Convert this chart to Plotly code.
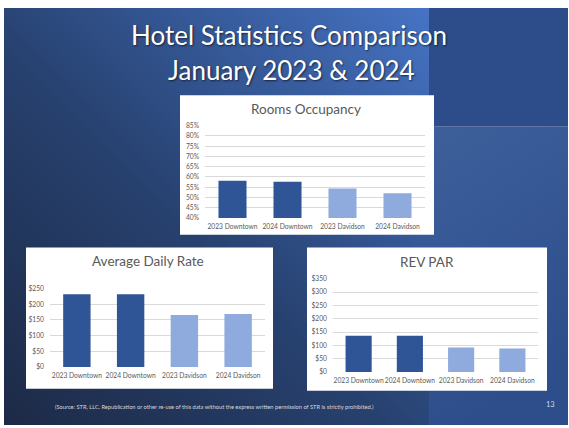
import plotly.graph_objects as go
from urllib.parse import quote

W, H = 569, 428

categories = ["2023 Downtown", "2024 Downtown", "2023 Davidson", "2024 Davidson"]
occupancy = [0.582, 0.577, 0.544, 0.520]
adr = [232, 232, 166, 169]
revpar = [136, 136, 92, 88]
bar_colors = ["#2f5597", "#2f5597", "#8faadc", "#8faadc"]

occ_ticks = [0.40, 0.45, 0.50, 0.55, 0.60, 0.65, 0.70, 0.75, 0.80, 0.85]
adr_ticks = [0, 50, 100, 150, 200, 250]
rev_ticks = [0, 50, 100, 150, 200, 250, 300, 350]

title_lines = ["Hotel Statistics Comparison", "January 2023 & 2024"]
chart_titles = ["Rooms Occupancy", "Average Daily Rate", "REV PAR"]
footer = ("(Source: STR, LLC. Republication or other re-use of this data without the "
          "express written permission of STR is strictly prohibited.)")
page_no = "13"


def px(x):
    return x / W


def py(y):
    return 1 - y / H


def svg_uri(svg):
    return "data:image/svg+xml;charset=utf-8," + quote(svg)


left_svg = (
    '<svg xmlns="http://www.w3.org/2000/svg" width="425" height="425" preserveAspectRatio="none" viewBox="0 0 425 425">'
    '<defs><linearGradient id="g" x1="0" y1="1" x2="1" y2="0">'
    '<stop offset="0" stop-color="#1d2a46"/>'
    '<stop offset="0.45" stop-color="#27416f"/>'
    '<stop offset="1" stop-color="#4673c4"/>'
    '</linearGradient></defs>'
    '<rect width="425" height="425" fill="url(#g)"/></svg>'
)
right_svg = (
    '<svg xmlns="http://www.w3.org/2000/svg" width="139" height="304" preserveAspectRatio="none" viewBox="0 0 139 304">'
    '<defs><linearGradient id="h" x1="0" y1="0" x2="0.3" y2="1">'
    '<stop offset="0" stop-color="#3d609b"/>'
    '<stop offset="1" stop-color="#2d4d8b"/>'
    '</linearGradient></defs>'
    '<rect width="139" height="304" fill="url(#h)"/></svg>'
)

images = [
    dict(source=svg_uri(left_svg), xref="paper", yref="paper", x=px(4), y=py(3),
         sizex=px(429) - px(4), sizey=py(3) - py(428), sizing="stretch",
         xanchor="left", yanchor="top", layer="below"),
    dict(source=svg_uri(right_svg), xref="paper", yref="paper", x=px(429), y=py(124),
         sizex=px(568) - px(429), sizey=py(124) - py(428), sizing="stretch",
         xanchor="left", yanchor="top", layer="below"),
]

shapes = [
    dict(type="rect", xref="paper", yref="paper", x0=px(429), x1=px(568), y0=py(124), y1=py(3),
         fillcolor="#2c4d89", line=dict(width=0), layer="below"),
    dict(type="rect", xref="paper", yref="paper", x0=px(180), x1=px(434), y0=py(234), y1=py(92),
         fillcolor="white", line=dict(width=0), layer="below"),
    dict(type="rect", xref="paper", yref="paper", x0=px(26), x1=px(273), y0=py(391), y1=py(247),
         fillcolor="white", line=dict(width=0), layer="below"),
    dict(type="rect", xref="paper", yref="paper", x0=px(307), x1=px(547), y0=py(393), y1=py(247),
         fillcolor="white", line=dict(width=0), layer="below"),
]

fig = go.Figure()

fig.add_trace(go.Bar(x=categories, y=occupancy, marker=dict(color=bar_colors, line=dict(width=0)),
                     xaxis="x", yaxis="y", showlegend=False, hoverinfo="skip"))
fig.add_trace(go.Bar(x=categories, y=adr, marker=dict(color=bar_colors, line=dict(width=0)),
                     xaxis="x2", yaxis="y2", showlegend=False, hoverinfo="skip"))
fig.add_trace(go.Bar(x=categories, y=revpar, marker=dict(color=bar_colors, line=dict(width=0)),
                     xaxis="x3", yaxis="y3", showlegend=False, hoverinfo="skip"))

tickfont = dict(family="Lato, Liberation Sans, sans-serif", size=6.7, color="#595959")
grid = "#d9d9d9"


def xax(domain, anchor):
    return dict(domain=domain, anchor=anchor, showgrid=False, zeroline=False, showline=False,
                ticks="", tickfont=tickfont, tickangle=0, ticklabelstandoff=3, fixedrange=True)


def yax(domain, anchor, rng, vals, texts):
    return dict(domain=domain, anchor=anchor, range=rng, tickvals=vals, ticktext=texts,
                showgrid=True, gridcolor=grid, gridwidth=1, zeroline=False, showline=False,
                ticks="", tickfont=tickfont, ticklabelstandoff=5, fixedrange=True)


fig.update_layout(
    width=W, height=H,
    margin=dict(l=0, r=0, t=0, b=0),
    paper_bgcolor="white",
    plot_bgcolor="rgba(0,0,0,0)",
    bargap=0.49,
    images=images,
    shapes=shapes,
    xaxis=xax([px(205), px(425)], "y"),
    yaxis=yax([py(217), py(123)], "x", [0.40, 0.85], occ_ticks,
              [f"{int(round(v * 100))}%" for v in occ_ticks]),
    xaxis2=xax([px(50), px(265)], "y2"),
    yaxis2=yax([py(369), py(289)], "x2", [0, 250], adr_ticks, [f"${v}" for v in adr_ticks]),
    xaxis3=xax([px(333), px(538)], "y3"),
    yaxis3=yax([py(374), py(279)], "x3", [0, 350], rev_ticks, [f"${v}" for v in rev_ticks]),
)

title_font = dict(family="Lato, Liberation Sans, sans-serif", size=26, color="white",
                  shadow="1px 1px 2px rgba(0,0,0,0.6)")
ann = [
    dict(text=title_lines[0], x=px(289), y=py(31), xref="paper", yref="paper",
         showarrow=False, font=title_font, xanchor="center", yanchor="middle"),
    dict(text=title_lines[1], x=px(291), y=py(66), xref="paper", yref="paper",
         showarrow=False, font=title_font, xanchor="center", yanchor="middle"),
]
ct_font = dict(family="Lato, Liberation Sans, sans-serif", size=13.5, color="#595959")
for t, cx, cy in zip(chart_titles, [306, 148, 427], [106, 261, 262]):
    ann.append(dict(text=t, x=px(cx), y=py(cy), xref="paper", yref="paper", showarrow=False,
                    font=ct_font, xanchor="center", yanchor="middle"))
ann.append(dict(text=footer, x=px(53), y=py(409), xref="paper", yref="paper", showarrow=False,
                font=dict(family="Lato, Liberation Sans, sans-serif", size=5.7, color="#d9d9d9"),
                xanchor="left", yanchor="middle"))
ann.append(dict(text=page_no, x=px(557), y=py(407), xref="paper", yref="paper", showarrow=False,
                font=dict(family="Lato, Liberation Sans, sans-serif", size=7.5, color="#d9d9d9"),
                xanchor="right", yanchor="middle"))
fig.update_layout(annotations=ann)

fig.write_html("out.html", config=dict(displayModeBar=False),
               post_script="document.body.style.margin='0';document.body.style.overflow='hidden';")
